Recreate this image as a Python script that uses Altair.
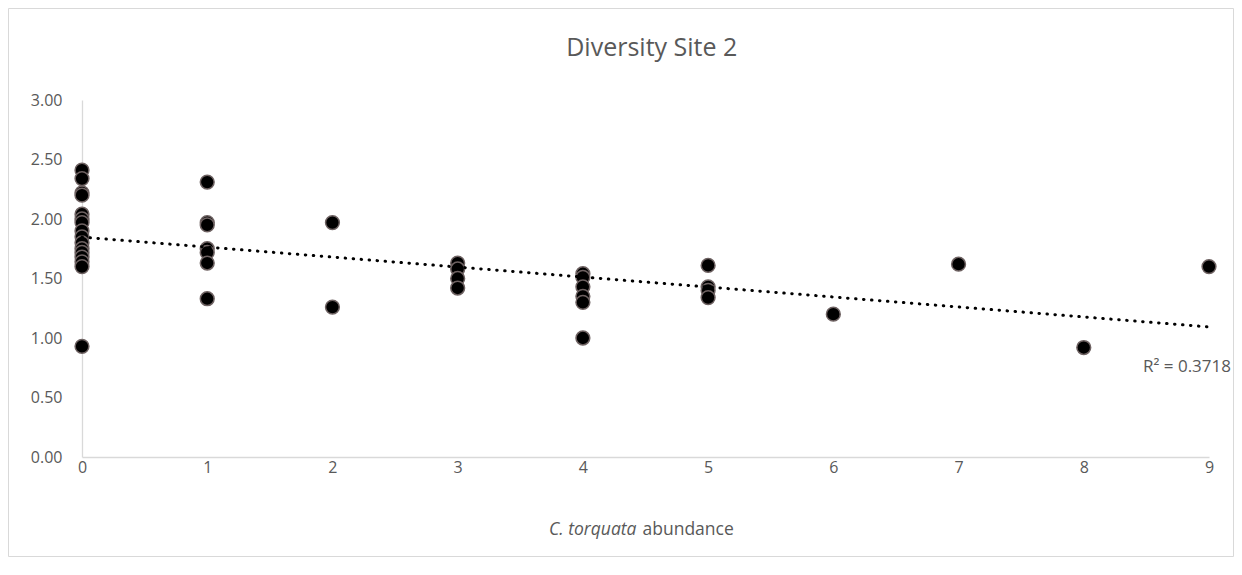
import altair as alt
import pandas as pd

# Data
x0 = [0]*16
y0 = [2.41, 2.34, 2.22, 2.20, 2.04, 2.00, 1.97, 1.90, 1.85, 1.80, 1.75, 1.72, 1.68, 1.64, 1.60, 0.93]
x1 = [1]*7
y1 = [2.31, 1.97, 1.95, 1.75, 1.72, 1.63, 1.33]
x2 = [2]*2
y2 = [1.97, 1.26]
x3 = [3]*4
y3 = [1.63, 1.58, 1.50, 1.42]
x4 = [4]*6
y4 = [1.54, 1.51, 1.43, 1.35, 1.30, 1.00]
x5 = [5]*4
y5 = [1.61, 1.43, 1.40, 1.34]
x_rest = [6, 7, 8, 9]
y_rest = [1.20, 1.62, 0.92, 1.60]

xs = x0 + x1 + x2 + x3 + x4 + x5 + x_rest
ys = y0 + y1 + y2 + y3 + y4 + y5 + y_rest
df = pd.DataFrame({"x": xs, "y": ys})

x_ticks = list(range(0, 10))
y_ticks = [0.0, 0.5, 1.0, 1.5, 2.0, 2.5, 3.0]
title_text = "Diversity Site 2"
r2_text = "R² = 0.3718"
xtitle_italic = "C. torquata"
xtitle_normal = "abundance"

FONT = "Open Sans"
GRAY = "#595959"

xscale = alt.Scale(domain=[0, 9], nice=False, zero=False)
yscale = alt.Scale(domain=[0, 3], nice=False)

xaxis = alt.Axis(values=x_ticks, title=None, grid=False, ticks=False, format="d",
                 domainColor="#D9D9D9", domainWidth=1.3, labelColor=GRAY,
                 labelFont=FONT, labelFontSize=16, labelPadding=2,
                 labelFlush=False)
yaxis = alt.Axis(values=y_ticks, title=None, grid=False, ticks=False, format=".2f",
                 domainColor="#D9D9D9", domainWidth=1.3, labelColor=GRAY,
                 labelFont=FONT, labelFontSize=16, labelPadding=20)

base = alt.Chart(df)

frame = alt.Chart(pd.DataFrame({"k": [0]})).mark_rect(
    fill=None, stroke="#D9D9D9", strokeWidth=1
).encode(x=alt.value(-73.5), x2=alt.value(1151.5),
         y=alt.value(-91.5), y2=alt.value(456.5))

points = base.mark_point(filled=True, size=190, opacity=1, fill="black",
                         stroke="#6e6262", strokeWidth=1.5).encode(
    x=alt.X("x:Q", scale=xscale, axis=xaxis),
    y=alt.Y("y:Q", scale=yscale, axis=yaxis),
)

trend = base.transform_regression("x", "y", extent=[0, 9]).mark_line(
    color="black", strokeWidth=3, strokeDash=[0.5, 7.5], strokeCap="round"
).encode(x=alt.X("x:Q", scale=xscale), y=alt.Y("y:Q", scale=yscale))

ann = pd.DataFrame({"x": [9], "y": [0.76], "t": [r2_text]})
r2 = alt.Chart(ann).mark_text(align="right", baseline="middle", dx=22,
                              font=FONT, fontSize=17, color=GRAY).encode(
    x=alt.X("x:Q", scale=xscale), y=alt.Y("y:Q", scale=yscale), text="t:N")

tt = pd.DataFrame({"x": [4.5], "y": [-0.61], "a": [xtitle_italic], "b": [xtitle_normal]})
t1 = alt.Chart(tt).mark_text(align="right", baseline="middle", dx=-9,
                             font=FONT, fontSize=17.5, fontStyle="italic", color=GRAY).encode(
    x=alt.X("x:Q", scale=xscale), y=alt.Y("y:Q", scale=yscale), text="a:N")
t2 = alt.Chart(tt).mark_text(align="left", baseline="middle", dx=-3,
                             font=FONT, fontSize=17.5, color=GRAY).encode(
    x=alt.X("x:Q", scale=xscale), y=alt.Y("y:Q", scale=yscale), text="b:N")

td = pd.DataFrame({"x": [4.55], "y": [3.44], "t": [title_text]})
title = alt.Chart(td).mark_text(align="center", baseline="middle",
                                font=FONT, fontSize=25, color=GRAY).encode(
    x=alt.X("x:Q", scale=xscale), y=alt.Y("y:Q", scale=yscale), text="t:N")

chart = alt.layer(frame, points, trend, r2, t1, t2, title).properties(
    width=1127, height=357,
    padding={"left": 74, "top": 92, "right": 25, "bottom": 100},
    autosize=alt.AutoSizeParams(type="none"),
    background="white",
).configure_view(stroke=None)

chart.save("out.html", embed_options={"renderer": "svg", "actions": False})
